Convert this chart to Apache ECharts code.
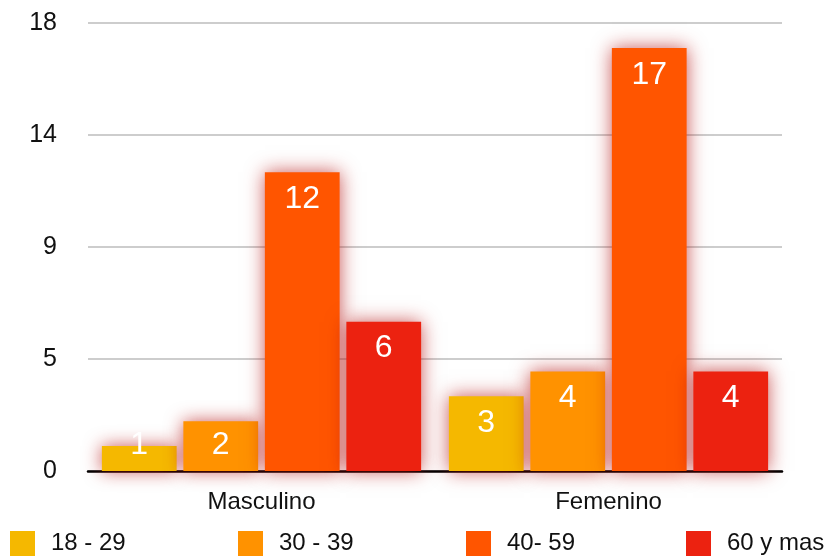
<!DOCTYPE html>
<html>
<head>
<meta charset="utf-8">
<title>Edad por sexo</title>
<script src="https://cdn.jsdelivr.net/npm/echarts@6/dist/echarts.min.js"></script>
<style>
  html, body { margin: 0; padding: 0; background: #fff; }
  #chart { width: 838px; height: 558px; }
</style>
</head>
<body>
<div id="chart"></div>
<script>
// Categories on the x axis
const categories = ['Masculino', 'Femenino'];

// Age groups (one series each)
const groupNames = ['18 - 29', '30 - 39', '40- 59', '60 y mas'];
const groupColors = ['#F5B800', '#FF9200', '#FF5500', '#EC2210'];

// Counts per age group, Masculino / Femenino
const values18to29 = [1, 3];
const values30to39 = [2, 4];
const values40to59 = [12, 17];
const values60plus = [6, 4];

const seriesValues = [values18to29, values30to39, values40to59, values60plus];

// Value axis range
const yMin = 0;
const yMax = 18;
const yStep = 4.5;

const fontFamily = '"Liberation Sans", Arial, Helvetica, sans-serif';

const gridTop = 23;
const gridBottom = 87;
const plotHeight = 558 - gridTop - gridBottom;
const labelFont = 32;
const labelDistance = 11;

const chart = echarts.init(document.getElementById('chart'));

// Short bars can't hold the label below their top edge, so the label is
// anchored to the bottom of the bar instead (it may poke above the bar).
function toItem(v) {
  const h = (v - yMin) / (yMax - yMin) * plotHeight;
  if (h < labelFont + 2 * labelDistance) {
    return { value: v, label: { position: 'insideBottom', distance: 10 } };
  }
  return v;
}

const series = groupNames.map((name, i) => ({
  name: name,
  type: 'bar',
  data: seriesValues[i].map(toItem),
  barGap: '9%',
  barCategoryGap: '8%',
  itemStyle: {
    color: groupColors[i],
    shadowColor: 'rgba(180, 15, 15, 0.7)',
    shadowBlur: 18
  },
  label: {
    show: true,
    position: 'insideTop',
    distance: labelDistance,
    color: '#fff',
    fontSize: labelFont,
    fontFamily: fontFamily
  },
  emphasis: { disabled: true }
}));

const legendLefts = [10, 238, 466, 686];
const legends = groupNames.map((name, i) => ({
  data: [name],
  left: legendLefts[i],
  top: 531,
  itemWidth: 25,
  itemHeight: 25,
  icon: 'rect',
  padding: 0,
  textStyle: {
    fontSize: 24,
    color: '#111',
    fontFamily: fontFamily,
    padding: [0, 0, 0, 11]
  },
  selectedMode: false
}));

chart.setOption({
  animation: false,
  backgroundColor: '#fff',
  grid: { left: 88, right: 56, top: gridTop, bottom: gridBottom },
  legend: legends,
  xAxis: {
    type: 'category',
    data: categories,
    axisLine: { show: true, lineStyle: { color: '#000', width: 2.5 } },
    axisTick: { show: false },
    axisLabel: { fontSize: 24, color: '#111', fontFamily: fontFamily, margin: 19 }
  },
  yAxis: {
    type: 'value',
    min: yMin,
    max: yMax,
    interval: yStep,
    axisLine: { show: false },
    axisTick: { show: false },
    axisLabel: {
      fontSize: 25,
      color: '#111',
      fontFamily: fontFamily,
      margin: 31,
      formatter: v => String(Math.round(v))
    },
    splitLine: { lineStyle: { color: '#bdbdbd', width: 1.5 } }
  },
  series: series
});
</script>
</body>
</html>
